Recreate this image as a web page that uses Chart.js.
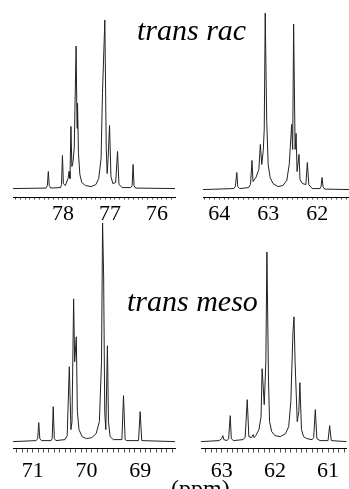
<!DOCTYPE html>
<html>
<head>
<meta charset="utf-8">
<script src="https://cdn.jsdelivr.net/npm/chart.js@4"></script>
<style>
  body { margin: 0; background: #fff; }
  #wrap { position: relative; width: 349px; height: 489px; overflow: hidden; }
  canvas { position: absolute; }
  .lbl { position: absolute; font-family: 'Liberation Serif', 'Times New Roman', serif; line-height: 1; white-space: nowrap; color: #000; }
  .ttl { font-style: italic; font-size: 30px; }
</style>
</head>
<body>
<div id="wrap">
  <canvas id="racHigh" style="left:0;top:0" width="180" height="228"></canvas>
  <canvas id="racLow" style="left:180px;top:0" width="169" height="228"></canvas>
  <canvas id="mesoHigh" style="left:0;top:220px" width="180" height="269"></canvas>
  <canvas id="mesoLow" style="left:180px;top:220px" width="169" height="269"></canvas>
  <div class="lbl ttl" style="left:137px;top:15px">trans rac</div>
  <div class="lbl ttl" style="left:127px;top:286px">trans meso</div>
  <div class="lbl" style="left:171px;top:476px;font-size:24px">(ppm)</div>
</div>
<script>
// [ppm, intensity]
const racHigh = [[79.06,0],[78.36,0.5],[78.33,3],[78.31,17],[78.29,3],[78.26,0.5],[78.05,1],[78.03,4],[78.01,33],[77.99,5],
  [77.95,3],[77.89,10],[77.87,17],[77.85,10],[77.83,62],[77.81,22],[77.79,25],[77.76,40],[77.72,142],[77.70,60],
  [77.69,85],[77.67,35],[77.64,14],[77.60,6],[77.52,3],[77.40,2],[77.30,4],[77.24,10],[77.19,30],[77.16,95],
  [77.11,168],[77.08,40],[77.06,15],[77.04,30],[77.01,63],[76.98,12],[76.94,5],[76.88,6],[76.84,37],[76.81,4],
  [76.74,1],[76.56,1],[76.53,3],[76.51,24],[76.49,3],[76.46,0.5],[75.62,0]];
const racLow = [[64.33,0],[63.70,1],[63.67,3],[63.64,17],[63.62,3],[63.58,1],[63.40,2],[63.36,5],[63.33,29],[63.31,8],
  [63.25,12],[63.19,20],[63.16,45],[63.13,25],[63.10,39],[63.08,60],[63.06,176],[63.03,69],[63.00,25],[62.96,12],
  [62.90,6],[62.80,3],[62.70,4],[62.62,9],[62.57,25],[62.52,65],[62.50,40],[62.48,165],[62.45,40],[62.43,56],
  [62.41,18],[62.37,35],[62.35,10],[62.30,6],[62.23,5],[62.20,27],[62.17,5],[62.10,1],[61.94,1],[61.92,3],
  [61.90,12],[61.88,3],[61.85,0.5],[61.35,0]];
const mesoHigh = [[71.37,0],[70.94,1],[70.91,3],[70.89,19],[70.87,3],[70.84,1],[70.66,1],[70.64,3],[70.62,35],[70.60,3],
  [70.57,1],[70.40,2],[70.36,6],[70.32,75],[70.29,12],[70.27,20],[70.24,143],[70.22,80],[70.19,105],[70.17,30],
  [70.14,12],[70.08,5],[70.00,3],[69.90,4],[69.82,8],[69.76,20],[69.72,80],[69.70,219],[69.68,165],[69.66,30],
  [69.64,12],[69.61,96],[69.59,20],[69.56,5],[69.50,2],[69.34,2],[69.31,46],[69.28,2],[69.25,1],[69.03,1],
  [69.00,30],[68.97,1],[68.35,0]];
const mesoLow = [[63.39,0],[63.05,1],[63.00,3],[62.98,6],[62.96,2],[62.90,1],[62.87,3],[62.84,26],[62.82,3],[62.78,1],
  [62.60,2],[62.56,4],[62.52,42],[62.49,5],[62.44,4],[62.41,7],[62.39,4],[62.36,6],[62.30,12],[62.26,25],
  [62.24,73],[62.20,37],[62.17,80],[62.15,190],[62.12,60],[62.10,20],[62.06,10],[62.00,6],[61.90,5],[61.80,8],
  [61.74,15],[61.70,40],[61.66,110],[61.64,125],[61.62,80],[61.58,20],[61.55,30],[61.53,59],[61.50,12],[61.46,5],
  [61.40,3],[61.30,2],[61.27,4],[61.24,32],[61.21,3],[61.15,1],[61.00,1],[60.97,16],[60.94,1],[60.65,0]];

const racHighTicks = [78, 77, 76];
const racLowTicks = [64, 63, 62];
const mesoHighTicks = [71, 70, 69];
const mesoLowTicks = [63, 62, 61];

const serif = "'Liberation Serif', 'Times New Roman', serif";

function spectrum(id, trace, labels, cfg) {
  const xs = trace.map(p => p[0]);
  return new Chart(document.getElementById(id), {
    type: 'line',
    data: {
      datasets: [{
        data: trace.map(([x, y]) => ({x, y})),
        borderColor: '#222',
        borderWidth: 1,
        pointRadius: 0,
        tension: 0,
        fill: false,
      }],
    },
    options: {
      responsive: false,
      animation: false,
      events: [],
      layout: {padding: {left: cfg.left, right: cfg.right, top: 0, bottom: 0}},
      plugins: {legend: {display: false}, tooltip: {enabled: false}},
      scales: {
        x: {
          type: 'linear',
          reverse: true,
          min: Math.min(...xs),
          max: Math.max(...xs),
          border: {display: true, color: '#000', width: 1},
          grid: {drawOnChartArea: false, drawTicks: true, tickLength: cfg.tick, color: '#555'},
          ticks: {
            stepSize: 0.1,
            autoSkip: false,
            maxRotation: 0,
            includeBounds: false,
            padding: cfg.pad,
            color: '#000',
            font: {family: serif, size: 22},
            callback: (v) => {
              const hit = labels.find(t => Math.abs(t - v) < 1e-6);
              return hit === undefined ? '' : String(hit);
            },
          },
        },
        y: {display: false, min: cfg.ymin, max: cfg.ymax},
      },
    },
  });
}

spectrum('racHigh', racHigh, racHighTicks, {left: 13, right: 5, tick: 2, pad: 1, ymin: -9, ymax: 188});
spectrum('racLow', racLow, racLowTicks, {left: 23, right: 0, tick: 2, pad: 1, ymin: -8, ymax: 189});
spectrum('mesoHigh', mesoHigh, mesoHighTicks, {left: 13, right: 5, tick: 4, pad: 5, ymin: -7, ymax: 222});
spectrum('mesoLow', mesoLow, mesoLowTicks, {left: 21, right: 0, tick: 4, pad: 5, ymin: -7, ymax: 222});
</script>
</body>
</html>
